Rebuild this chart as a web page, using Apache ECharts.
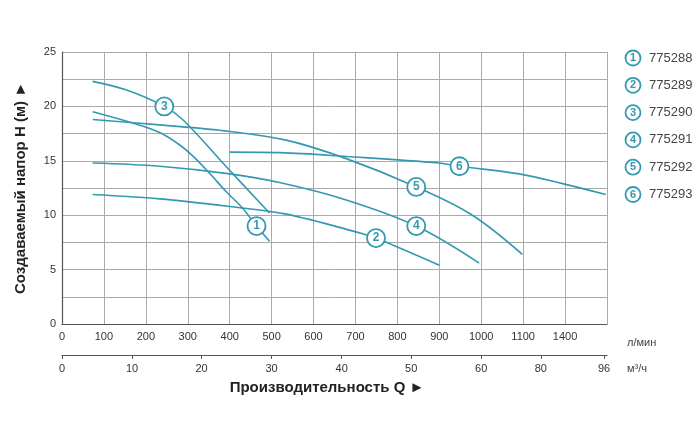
<!DOCTYPE html>
<html><head><meta charset="utf-8">
<script src="https://cdn.jsdelivr.net/npm/echarts@6/dist/echarts.min.js"></script>
<style>html,body{margin:0;padding:0;background:#fff}#c{width:700px;height:432px}</style>
</head><body><div id="c"></div>
<script>
// Flow axis (l/min) tick labels, one per 100 l/min grid column
const flowTickLabels = ['0','100','200','300','400','500','600','700','800','900','1000','1100','1400',''];
// Secondary axis (m3/h) tick labels and their positions on the l/min scale
const m3Labels = ['0','10','20','30','40','50','60','80','96'];
const m3TickPos = [0,167,333,500,667,833,1000,1142,1293];
// Models
const models = ['775288','775289','775290','775291','775292','775293'];
// Curves: [Q l/min, H m]
const c1 = [[73,19.5],[170,18.45],[233,17.6],[281,16.45],[313,15.4],[352,13.85],[392,12.15],[432,10.6],[464,9.0],[495,7.6]];
const c2 = [[73,11.9],[233,11.5],[400,10.8],[535,10.1],[717,8.3],[749,7.9],[900,5.4]];
const c3 = [[73,22.3],[154,21.5],[244,20.0],[289,18.75],[392,14.45],[495,10.2]];
const c4 = [[73,14.8],[233,14.5],[400,13.8],[519,13.0],[678,11.4],[845,9.0],[995,5.6]];
const c5 = [[73,18.8],[233,18.3],[400,17.7],[535,16.9],[678,15.2],[845,12.6],[979,10.0],[1098,6.4]];
const c6 = [[400,15.8],[520,15.75],[678,15.4],[900,14.8],[948,14.5],[1090,13.8],[1194,12.9],[1297,11.9]];
const curves = [c1,c2,c3,c4,c5,c6];
// Circled-number label positions on each curve
const markerPts = [[464,9.0],[749,7.9],[244,20.0],[845,9.0],[845,12.6],[948,14.5]];

const TEAL = '#3399b1';
const chart = echarts.init(document.getElementById('c'), null, {renderer:'canvas'});

const series = curves.map((d,i)=>({
  type:'line', name:models[i], data:d, smooth:0.35, showSymbol:false,
  lineStyle:{color:TEAL,width:1.6}, itemStyle:{color:TEAL}, z:2, silent:true
}));
series.push({
  type:'scatter', xAxisIndex:0, yAxisIndex:0, z:5, silent:true,
  data: markerPts.map((p,i)=>({value:p, name:String(i+1)})),
  symbol:'circle', symbolSize:18,
  itemStyle:{color:'#fff', borderColor:TEAL, borderWidth:1.8, opacity:1},
  label:{show:true, position:'inside', formatter:p=>p.name, color:TEAL, fontSize:12, fontWeight:'bold', fontFamily:'Liberation Sans, Arial'}
});

const graphics = [];
models.forEach((m,i)=>{
  const cy = 58 + i*27.3;
  graphics.push({type:'circle', shape:{cx:633, cy:cy, r:7.5}, style:{fill:'#fff', stroke:TEAL, lineWidth:1.8}});
  graphics.push({type:'text', x:633, y:cy, style:{text:String(i+1), fill:TEAL, font:'bold 11px Liberation Sans', textAlign:'center', textVerticalAlign:'middle'}});
  graphics.push({type:'text', x:649, y:cy, style:{text:m, fill:'#444', font:'13px Liberation Sans', textAlign:'left', textVerticalAlign:'middle'}});
});
graphics.push({type:'text', x:627, y:343, style:{text:'л/мин', fill:'#444', font:'11px Liberation Sans', textVerticalAlign:'middle'}});
graphics.push({type:'text', x:627, y:369, style:{text:'м³/ч', fill:'#444', font:'11px Liberation Sans', textVerticalAlign:'middle'}});
graphics.push({type:'text', x:327, y:388, style:{text:'Производительность Q ►', fill:'#222', font:'bold 15px Liberation Sans', textAlign:'center', textVerticalAlign:'middle'}});
graphics.push({type:'text', x:21, y:188, rotation:Math.PI/2, style:{text:'Создаваемый напор H (м) ►', fill:'#222', font:'bold 15px Liberation Sans', textAlign:'center', textVerticalAlign:'middle'}});

const axisTxt = {color:'#333', fontSize:11, fontFamily:'Liberation Sans, Arial'};
chart.setOption({
  animation:false,
  backgroundColor:'#fff',
  grid:[
    {left:62, top:52, width:545, height:272},
    {left:62, top:354, width:545, height:1}
  ],
  xAxis:[
    {gridIndex:0, type:'value', min:0, max:1300, interval:100,
     axisLine:{show:true, onZero:false, lineStyle:{color:'#555', width:1.2}},
     axisTick:{show:false},
     axisLabel:Object.assign({margin:7, showMaxLabel:true, formatter:v=>flowTickLabels[Math.round(v/100)]}, axisTxt),
     splitLine:{show:true, lineStyle:{color:'#aaa', width:1}}},
    {gridIndex:1, type:'value', min:0, max:1300, position:'bottom',
     axisLine:{show:true, onZero:false, lineStyle:{color:'#555', width:1.2}},
     axisTick:{show:true, length:4, customValues:m3TickPos, lineStyle:{color:'#555'}},
     axisLabel:Object.assign({margin:8, customValues:m3TickPos, formatter:v=>m3Labels[m3TickPos.indexOf(v)]}, axisTxt),
     splitLine:{show:false}}
  ],
  yAxis:[
    {gridIndex:0, type:'value', min:0, max:25, interval:2.5,
     axisLine:{show:true, onZero:false, lineStyle:{color:'#555', width:1.2}},
     axisTick:{show:false},
     axisLabel:Object.assign({margin:6, formatter:v=>(v%5===0?String(v):'')}, axisTxt),
     splitLine:{show:true, lineStyle:{color:'#aaa', width:1}}},
    {gridIndex:1, type:'value', show:false}
  ],
  graphic:graphics,
  series:series
});
</script></body></html>
